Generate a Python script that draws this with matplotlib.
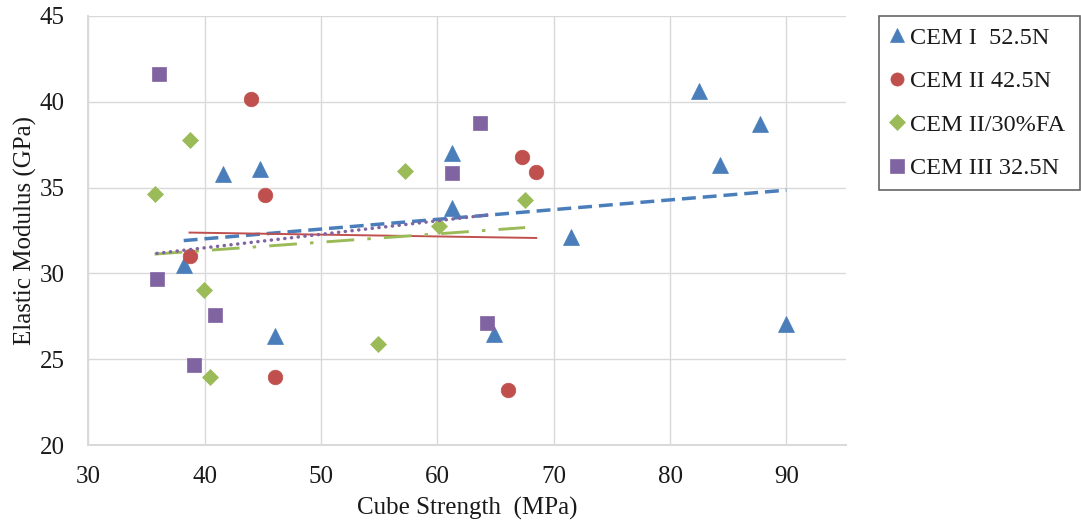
import numpy as np
import matplotlib
matplotlib.use("Agg")
import matplotlib.pyplot as plt

# ---- data ----
cem1_x = [41.6, 44.8, 38.2, 46.05, 61.3, 61.3, 71.5, 64.9, 82.5, 87.7, 84.3, 90.0]
cem1_y = [35.8, 36.1, 30.5, 26.35, 37.0, 33.8, 32.15, 26.5, 40.6, 38.7, 36.3, 27.05]

cem2_x = [43.95, 45.2, 38.7, 46.05, 67.3, 68.5, 66.1]
cem2_y = [40.15, 34.55, 31.0, 23.95, 36.8, 35.9, 23.2]

fa_x = [38.7, 35.7, 39.95, 40.5, 57.25, 67.55, 60.15, 54.9]
fa_y = [37.75, 34.65, 29.05, 23.95, 35.95, 34.3, 32.75, 25.9]

cem3_x = [36.1, 35.9, 40.9, 39.1, 63.65, 61.25, 64.25]
cem3_y = [41.6, 29.7, 27.6, 24.65, 38.75, 35.85, 27.1]

labels = ["CEM I  52.5N", "CEM II 42.5N", "CEM II/30%FA", "CEM III 32.5N"]
colors = ["#4a7ebb", "#c0504d", "#9bbb59", "#8064a2"]
markers = ["^", "o", "D", "s"]
msizes = [11, 10.5, 8.5, 10.5]

x_ticks = [30, 40, 50, 60, 70, 80, 90]
y_ticks = [20, 25, 30, 35, 40, 45]

series = [(cem1_x, cem1_y), (cem2_x, cem2_y), (fa_x, fa_y), (cem3_x, cem3_y)]

plt.rcParams['font.family'] = ['Liberation Serif', 'DejaVu Serif']

fig = plt.figure(figsize=(10.81, 5.29), dpi=100)
ax = fig.add_axes([88.3 / 1081, 1 - 445.3 / 529, (845.7 - 88.3) / 1081, (445.3 - 15.7) / 529])

handles = []
for (xs, ys), lab, c, m, ms in zip(series, labels, colors, markers, msizes):
    h, = ax.plot(xs, ys, linestyle='none', marker=m, markersize=ms, color=c,
                 markeredgecolor=c, markeredgewidth=0.5, label=lab, zorder=3)
    handles.append(h)

# linear trendlines (least squares fit over each series' x-range)
line_styles = [
    dict(lw=2.5, dashes=(4.0, 2.0), dash_capstyle='butt'),
    dict(lw=1.4, linestyle='-'),
    dict(lw=2.1, dashes=(9.5, 4.5, 1.2, 4.5), dash_capstyle='butt'),
    dict(lw=2.5, dashes=(0.05, 1.9), dash_capstyle='round'),
]
for (xs, ys), c, st in zip(series, colors, line_styles):
    xs_a = np.asarray(xs)
    k, b = np.polyfit(xs_a, np.asarray(ys), 1)
    xx = np.array([xs_a.min(), xs_a.max()])
    ax.plot(xx, k * xx + b, color=c, zorder=4, **st)

ax.set_xlim(30, 95.1)
ax.set_ylim(20, 45)
ax.set_xticks(x_ticks)
ax.set_yticks(y_ticks)
ax.grid(True, color='#d9d9d9', linewidth=1.0)
ax.set_axisbelow(True)
for s in ['top', 'right']:
    ax.spines[s].set_visible(False)
for s in ['left', 'bottom']:
    ax.spines[s].set_color('#d9d9d9')
    ax.spines[s].set_linewidth(1.4)
ax.tick_params(axis='both', length=0, labelsize=18, colors='#1a1a1a')
ax.tick_params(axis='x', pad=15)
ax.tick_params(axis='y', pad=17)

ax.set_xlabel("Cube Strength  (MPa)", fontsize=18, color='#1a1a1a')
ax.set_ylabel("Elastic Modulus (GPa)", fontsize=18, color='#1a1a1a')
ax.xaxis.set_label_coords(0.5, -0.119)
ax.yaxis.set_label_coords(-0.068, 0.5)

leg = fig.legend(handles=handles, loc='upper left',
                 bbox_to_anchor=(878.5 / 1081, 1 - 16 / 529, (1080 - 878.5) / 1081, 0.0),
                 mode='expand', fontsize=17.5, frameon=True, fancybox=False,
                 edgecolor='#404040', handlelength=0.6, handletextpad=0.25,
                 labelspacing=0.88, borderpad=0.45, borderaxespad=0, markerscale=0.9)
leg.get_frame().set_linewidth(1.2)
for t in leg.get_texts():
    t.set_color('#1a1a1a')

fig.savefig("out.png", dpi=100)
